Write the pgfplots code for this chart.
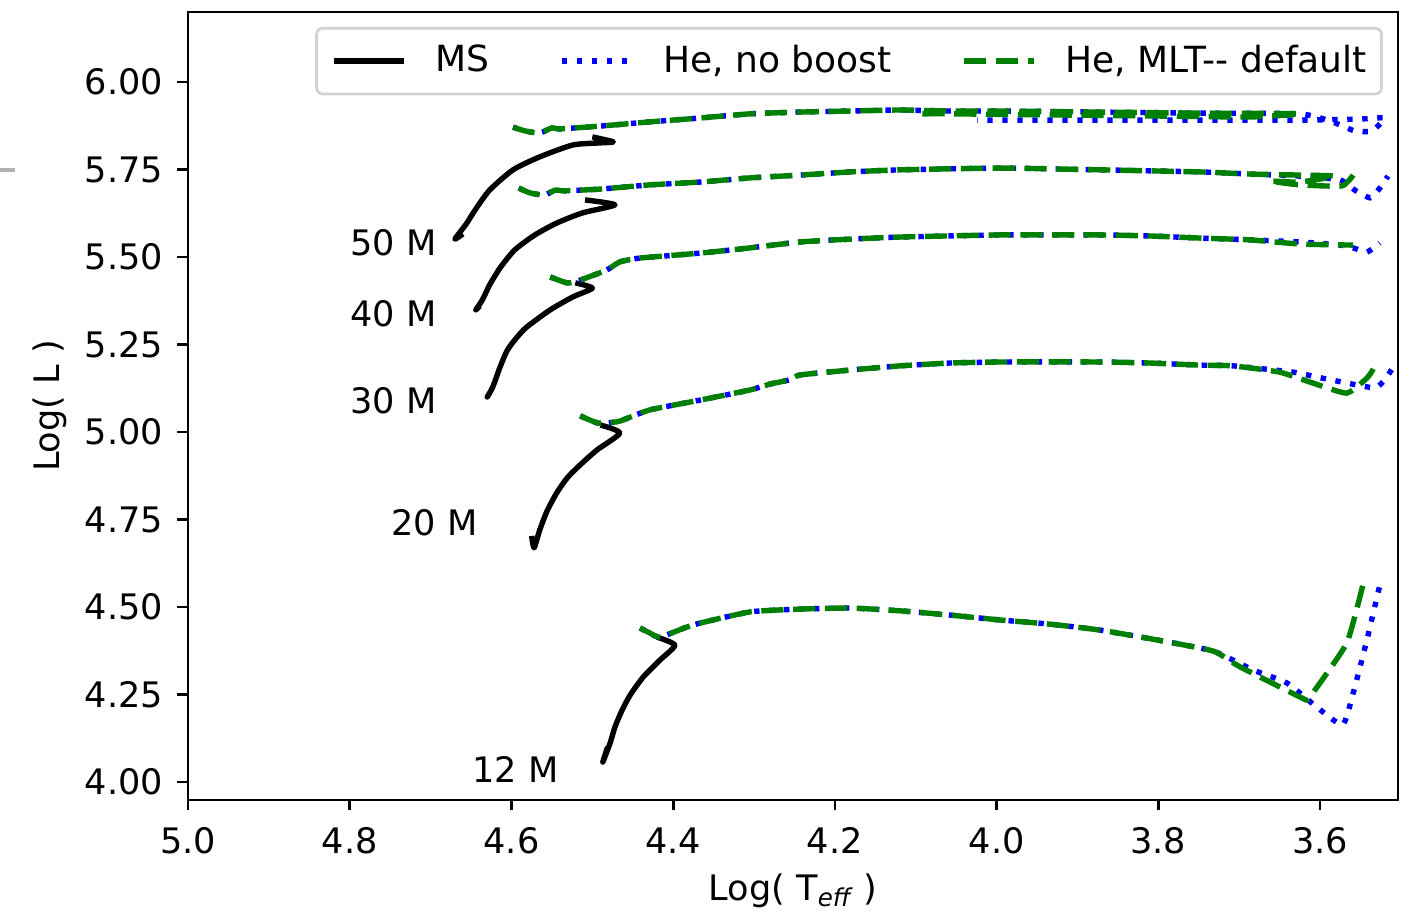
\documentclass[border=0pt]{standalone}
\usepackage{fontspec}
\setmainfont{DejaVu Sans}
\usepackage{pgfplots}
\pgfplotsset{compat=1.18}
\definecolor{mplgreen}{rgb}{0,0.5,0}
\pgfplotsset{
  ms/.style={black, line width=1.8pt, line join=round, solid, smooth, tension=0.4},
  he/.style={blue, line width=1.8pt, dash pattern=on 1.8pt off 3.2pt, smooth, tension=0.3},
  mlt/.style={mplgreen, line width=1.8pt, dash pattern=on 7.4pt off 3.2pt, smooth, tension=0.3},
}
\begin{document}
\fontsize{11.7}{14}\selectfont
\begin{tikzpicture}
\useasboundingbox (-62.67pt,-37.33pt) rectangle (411pt,266.67pt);
\draw[gray!60, line width=1.3pt] (-62.67pt,210pt) -- (-57.67pt,210pt);
\begin{axis}[
  at={(0pt,0pt)}, anchor=south west,
  scale only axis, width=403.33pt, height=262.67pt,
  x dir=reverse,
  xmin=3.5036, xmax=5.0, ymin=3.9486, ymax=6.2,
  xtick={3.6,3.8,4.0,4.2,4.4,4.6,4.8,5.0},
  ytick={4,4.25,4.5,4.75,5,5.25,5.5,5.75,6},
  xticklabel style={yshift=-1.7pt, /pgf/number format/.cd, fixed, fixed zerofill, precision=1, assume math mode=true},
  yticklabel style={xshift=-0.7pt, /pgf/number format/.cd, fixed, fixed zerofill, precision=2, assume math mode=true},
  tick align=outside, major tick length=3.5pt,
  xtick pos=left, ytick pos=left,
  axis line style={line width=0.9pt},
  every tick/.style={black, line width=0.9pt},
  no markers,
  xlabel={Log( T\textsubscript{\itshape eff} )},
  ylabel={Log( L )},
  xlabel style={at={(axis description cs:0.5,-0.1154)}, anchor=center},
  ylabel style={at={(axis description cs:-0.114,0.5)}, anchor=center},
  legend columns=3,
  legend style={at={(0.9875,0.981)}, anchor=north east, draw=gray!35, line width=0.9pt,
    rounded corners=2pt, fill=white, inner xsep=4.9pt, inner ysep=5.5pt,
    font=\fontsize{12}{14}\selectfont,
    nodes={inner sep=0pt},
    /tikz/every odd column/.append style={column sep=9.7pt},
    /tikz/every even column/.append style={column sep=23.2pt}},
  legend image code/.code={\draw[#1, sharp plot] (0pt,0pt) -- (23.3pt,0pt);},
]
% ---------------- MS tracks ----------------
\addplot[ms] coordinates {(4.660,5.566) (4.670,5.551) (4.656,5.594) (4.645,5.634) (4.627,5.691) (4.598,5.749) (4.565,5.786) (4.524,5.820) (4.490,5.826) (4.474,5.829) (4.500,5.843)};
\addlegendentry{MS}
\addplot[ms, forget plot] coordinates {(4.639,5.360) (4.644,5.349) (4.636,5.377) (4.627,5.420) (4.614,5.469) (4.596,5.520) (4.571,5.563) (4.544,5.597) (4.512,5.626) (4.472,5.649) (4.509,5.663)};
\addplot[ms, forget plot] coordinates {(4.627,5.111) (4.630,5.100) (4.623,5.129) (4.614,5.186) (4.605,5.234) (4.593,5.271) (4.581,5.300) (4.552,5.349) (4.524,5.386) (4.500,5.411) (4.521,5.426)};
\addplot[ms, forget plot] coordinates {(4.575,4.703) (4.572,4.669) (4.565,4.720) (4.556,4.774) (4.544,4.826) (4.531,4.869) (4.515,4.906) (4.494,4.949) (4.466,4.997) (4.490,5.020)};
\addplot[ms, forget plot] coordinates {(4.481,4.100) (4.487,4.057) (4.478,4.111) (4.472,4.157) (4.463,4.206) (4.453,4.249) (4.437,4.300) (4.416,4.349) (4.398,4.391) (4.420,4.414)};
% ---------------- He, no boost ----------------
\addplot[he] coordinates {(4.598,5.871) (4.583,5.860) (4.565,5.854) (4.550,5.869) (4.540,5.866) (4.490,5.874) (4.429,5.886) (4.367,5.897) (4.305,5.909) (4.243,5.914) (4.181,5.917) (4.119,5.920) (4.058,5.917) (3.996,5.917) (3.872,5.914) (3.748,5.911) (3.625,5.909) (3.588,5.889) (3.557,5.860) (3.536,5.860) (3.520,5.897) (3.551,5.894) (3.625,5.891) (3.748,5.891) (3.872,5.891) (4.024,5.891)};
\addlegendentry{He, no boost}
\addplot[he, forget plot] coordinates {(4.591,5.697) (4.577,5.683) (4.559,5.677) (4.546,5.691) (4.534,5.689) (4.490,5.694) (4.429,5.706) (4.367,5.714) (4.305,5.726) (4.243,5.734) (4.181,5.743) (4.119,5.749) (3.996,5.754) (3.872,5.749) (3.748,5.743) (3.687,5.737) (3.625,5.731) (3.575,5.720) (3.557,5.691) (3.538,5.669) (3.526,5.697) (3.516,5.731)};
\addplot[he, forget plot] coordinates {(4.552,5.443) (4.531,5.426) (4.515,5.434) (4.482,5.463) (4.466,5.486) (4.441,5.497) (4.367,5.511) (4.305,5.526) (4.243,5.543) (4.181,5.551) (4.119,5.557) (3.996,5.563) (3.872,5.563) (3.810,5.560) (3.748,5.554) (3.687,5.549) (3.625,5.543) (3.575,5.534) (3.559,5.526) (3.542,5.514) (3.526,5.540)};
\addplot[he, forget plot] coordinates {(4.515,5.046) (4.494,5.026) (4.482,5.026) (4.466,5.031) (4.429,5.063) (4.367,5.091) (4.305,5.120) (4.280,5.137) (4.256,5.149) (4.243,5.163) (4.181,5.177) (4.119,5.189) (4.058,5.197) (3.996,5.200) (3.872,5.200) (3.810,5.197) (3.748,5.191) (3.708,5.189) (3.633,5.171) (3.604,5.157) (3.567,5.140) (3.532,5.126) (3.520,5.149) (3.511,5.180)};
\addplot[he, forget plot] coordinates {(4.441,4.440) (4.429,4.426) (4.416,4.414) (4.375,4.449) (4.305,4.486) (4.243,4.494) (4.181,4.497) (4.119,4.489) (4.058,4.477) (3.996,4.463) (3.934,4.451) (3.872,4.434) (3.802,4.406) (3.732,4.374) (3.683,4.320) (3.641,4.283) (3.604,4.214) (3.572,4.163) (3.559,4.254) (3.542,4.406) (3.526,4.563)};
% ---------------- He, MLT-- default ----------------
\addplot[mlt] coordinates {(4.598,5.871) (4.583,5.860) (4.565,5.854) (4.550,5.869) (4.540,5.866) (4.490,5.874) (4.429,5.886) (4.367,5.897) (4.305,5.909) (4.243,5.914) (4.181,5.917) (4.119,5.920) (4.058,5.917) (3.996,5.917) (3.872,5.914) (3.748,5.911) (3.625,5.909) (3.687,5.900) (3.810,5.903) (3.934,5.906) (4.058,5.909) (4.095,5.909)};
\addlegendentry{He, MLT-{}- default}
\addplot[mlt, forget plot] coordinates {(4.591,5.697) (4.577,5.683) (4.559,5.677) (4.546,5.691) (4.534,5.689) (4.490,5.694) (4.429,5.706) (4.367,5.714) (4.305,5.726) (4.243,5.734) (4.181,5.743) (4.119,5.749) (3.996,5.754) (3.872,5.749) (3.748,5.743) (3.687,5.737) (3.625,5.734) (3.582,5.731) (3.625,5.714) (3.662,5.717) (3.625,5.706) (3.573,5.703) (3.559,5.734)};
\addplot[mlt, forget plot] coordinates {(4.552,5.443) (4.531,5.426) (4.515,5.434) (4.482,5.463) (4.466,5.486) (4.441,5.497) (4.367,5.511) (4.305,5.526) (4.243,5.543) (4.181,5.551) (4.119,5.557) (3.996,5.563) (3.872,5.563) (3.810,5.560) (3.748,5.554) (3.687,5.549) (3.625,5.537) (3.559,5.534)};
\addplot[mlt, forget plot] coordinates {(4.515,5.046) (4.494,5.026) (4.482,5.026) (4.466,5.031) (4.429,5.063) (4.367,5.091) (4.305,5.120) (4.280,5.137) (4.256,5.149) (4.243,5.163) (4.181,5.177) (4.119,5.189) (4.058,5.197) (3.996,5.200) (3.872,5.200) (3.810,5.197) (3.748,5.191) (3.708,5.189) (3.650,5.171) (3.609,5.140) (3.567,5.111) (3.542,5.154) (3.534,5.180)};
\addplot[mlt, forget plot] coordinates {(4.441,4.440) (4.429,4.426) (4.416,4.414) (4.375,4.449) (4.305,4.486) (4.243,4.494) (4.181,4.497) (4.119,4.489) (4.058,4.477) (3.996,4.463) (3.934,4.451) (3.872,4.434) (3.802,4.406) (3.732,4.374) (3.699,4.329) (3.625,4.243) (3.616,4.234) (3.609,4.254) (3.567,4.397) (3.547,4.563)};
% ---------------- mass labels ----------------
\node[anchor=west, inner sep=0pt] at (axis cs:4.800,5.540) {50 M};
\node[anchor=west, inner sep=0pt] at (axis cs:4.800,5.337) {40 M};
\node[anchor=west, inner sep=0pt] at (axis cs:4.800,5.089) {30 M};
\node[anchor=west, inner sep=0pt] at (axis cs:4.749,4.740) {20 M};
\node[anchor=west, inner sep=0pt] at (axis cs:4.649,4.037) {12 M};
\end{axis}
\end{tikzpicture}
\end{document}
